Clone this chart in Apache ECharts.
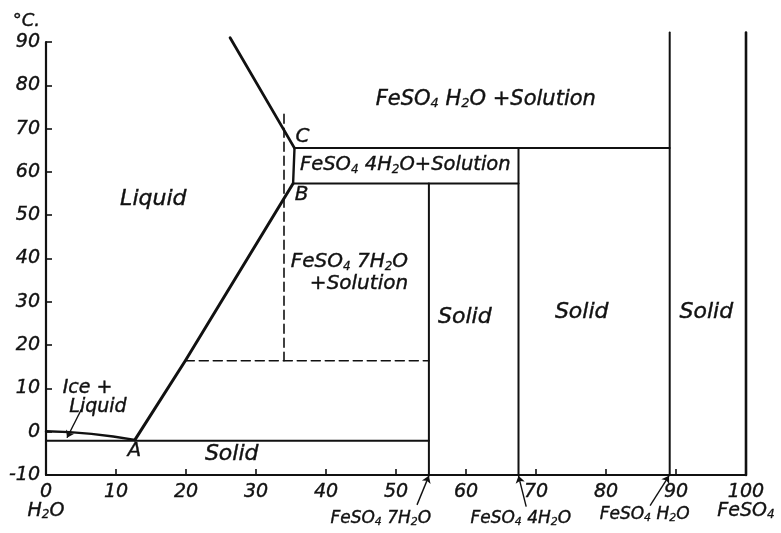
<!DOCTYPE html>
<html>
<head>
<meta charset="utf-8">
<script src="https://cdn.jsdelivr.net/npm/echarts@6/dist/echarts.min.js"></script>
<style>
  html, body { margin: 0; padding: 0; background: #ffffff; }
  #chart { width: 781px; height: 533px; }
</style>
</head>
<body>
<div id="chart"></div>
<script>
// FeSO4 – H2O phase diagram. Points are [% FeSO4, temperature °C].
const iceCurve      = [[0, 0.1], [3.4, -0.1], [6.5, -0.5], [9.6, -1.1], [12.7, -1.9]];
const eutecticLine  = [[0, -2.1], [54.7, -2.1]];
const heptaLiquidus = [[12.7, -1.9], [19.9, 16.4], [35.3, 57.3]];
const tetraLiquidus = [[35.3, 57.3], [35.5, 65.5]];
const monoLiquidus  = [[35.5, 65.5], [26.3, 91.0]];
const tetraUpper    = [[35.5, 65.5], [89.1, 65.5]];
const tetraLower    = [[35.3, 57.3], [67.5, 57.3]];
const heptaSolid    = [[54.7, 57.3], [54.7, -10]];
const tetraSolid    = [[67.5, 65.5], [67.5, -10]];
const monoSolid     = [[89.1, 92.2], [89.1, -10]];
const anhydrous     = [[100, 92.2], [100, -10]];
// metastable (dashed) extensions
const metaVertical   = [[34.0, 73.3], [34.0, 16.4]];
const metaHorizontal = [[19.9, 16.4], [54.7, 16.4]];

// axis ticks
const xMin = 0, xMax = 100, xStep = 10;
const yMin = -10, yMax = 90, yStep = 10;

// field and point names: [text, % FeSO4, °C, font size, align]
const fieldLabels = [
  ['FeSO{s|4} H{s|2}O +Solution', 62.9, 76.7, 21, 'center'],
  ['FeSO{s|4} 4H{s|2}O+Solution', 51.4, 61.4, 19.5, 'center'],
  ['Liquid', 15.4, 53.6, 22, 'center'],
  ['FeSO{s|4} 7H{s|2}O\n+Solution', 51.8, 36.6, 20, 'right'],
  ['Solid', 59.9, 26.3, 22, 'center'],
  ['Solid', 76.6, 27.5, 22, 'center'],
  ['Solid', 94.4, 27.5, 22, 'center'],
  ['Ice +', 6.0, 9.9, 19, 'center'],
  ['Liquid', 7.5, 5.6, 19, 'center'],
  ['Solid', 26.6, -5.3, 22, 'center'],
  ['C', 36.7, 67.9, 20, 'center'],
  ['B', 36.6, 54.7, 20, 'center'],
  ['A', 12.7, -4.6, 20, 'center'],
  ['FeSO{s|4} 7H{s|2}O', 47.9, -20.1, 17, 'center'],
  ['FeSO{s|4} 4H{s|2}O', 67.9, -20.1, 17, 'center'],
  ['FeSO{s|4} H{s|2}O', 85.6, -19.2, 17, 'center']
];

// pointer arrows: [from, to]
const pointers = [
  [[5.1, 5.3], [3.0, -1.4]],
  [[53.0, -16.9], [54.7, -10.2]],
  [[68.6, -17.3], [67.5, -10.2]],
  [[86.3, -17.1], [89.0, -10.2]]
];

const FONT = 'DejaVu Sans';
const INK = '#111111';
const INK_EDGE = 0.4;   // thin outline thickens the lettering a little

function boundary(data, width, dashed) {
  return {
    type: 'line',
    data: data,
    symbol: 'none',
    clip: false,
    silent: true,
    smooth: false,
    lineStyle: { color: INK, width: width, type: dashed ? [9, 5] : 'solid', cap: 'round', join: 'round', opacity: 1 },
    z: 3
  };
}

function subRich(size) {
  return {
    s: {
      fontSize: Math.round(size * 0.62), lineHeight: Math.round(size * 0.55), verticalAlign: 'bottom',
      fontFamily: FONT, fontStyle: 'italic', color: INK,
      textBorderColor: INK, textBorderWidth: INK_EDGE * 0.7
    }
  };
}

const chart = echarts.init(document.getElementById('chart'), null, { renderer: 'canvas' });

const series = [
  boundary(iceCurve, 2.4),
  boundary(eutecticLine, 2.0),
  boundary(heptaLiquidus, 3.0),
  boundary(tetraLiquidus, 2.4),
  boundary(monoLiquidus, 2.8),
  boundary(tetraUpper, 2.0),
  boundary(tetraLower, 2.0),
  boundary(heptaSolid, 2.0),
  boundary(tetraSolid, 2.0),
  boundary(monoSolid, 2.0),
  boundary(anhydrous, 2.6),
  boundary(metaVertical, 1.6, true),
  boundary(metaHorizontal, 1.6, true),
  {
    type: 'lines',
    coordinateSystem: 'cartesian2d',
    clip: false,
    silent: true,
    symbol: ['none', 'arrow'],
    symbolSize: 7,
    lineStyle: { color: INK, width: 1.4, opacity: 1 },
    data: pointers.map(p => ({ coords: [p[0], p[1]] })),
    z: 4
  },
  {
    type: 'scatter',
    clip: false,
    silent: true,
    symbolSize: 1,
    itemStyle: { color: 'rgba(0,0,0,0)', opacity: 1 },
    data: fieldLabels.map(f => ({
      value: [f[1], f[2]],
      label: {
        show: true,
        position: [0, 0],
        formatter: f[0],
        align: f[4],
        verticalAlign: 'middle',
        fontFamily: FONT,
        fontStyle: 'italic',
        fontSize: f[3],
        lineHeight: Math.round(f[3] * 1.1),
        color: INK,
        opacity: 1,
        textBorderColor: INK,
        textBorderWidth: INK_EDGE,
        rich: subRich(f[3])
      }
    })),
    z: 5
  }
];

chart.setOption({
  backgroundColor: '#ffffff',
  animation: false,
  grid: { left: 46, right: 35, top: 42, bottom: 58, containLabel: false },
  xAxis: {
    type: 'value',
    min: xMin, max: xMax, interval: xStep,
    axisLine: { show: true, onZero: false, lineStyle: { color: INK, width: 2.2 } },
    axisTick: { show: true, inside: true, length: 6, lineStyle: { color: INK, width: 1.6 } },
    splitLine: { show: false },
    axisLabel: {
      margin: 8,
      fontFamily: FONT, fontStyle: 'italic', fontSize: 19, color: INK,
      textBorderColor: INK, textBorderWidth: INK_EDGE,
      lineHeight: 19,
      formatter: function (v) {
        if (v === 0) return '0\nH{s|2}O';
        if (v === 100) return '100\nFeSO{s|4}';
        return String(v);
      },
      rich: subRich(19)
    }
  },
  yAxis: {
    type: 'value',
    min: yMin, max: yMax, interval: yStep,
    name: '°C.',
    nameLocation: 'end',
    nameGap: 12,
    nameTextStyle: {
      fontFamily: FONT, fontStyle: 'italic', fontSize: 18, color: INK,
      textBorderColor: INK, textBorderWidth: INK_EDGE,
      align: 'right', padding: [0, 6, 0, 0]
    },
    axisLine: { show: true, onZero: false, lineStyle: { color: INK, width: 2.2 } },
    axisTick: { show: true, inside: true, length: 6, lineStyle: { color: INK, width: 1.6 } },
    splitLine: { show: false },
    axisLabel: {
      margin: 6, fontFamily: FONT, fontStyle: 'italic', fontSize: 19, color: INK,
      textBorderColor: INK, textBorderWidth: INK_EDGE
    }
  },
  series: series
});
</script>
</body>
</html>
